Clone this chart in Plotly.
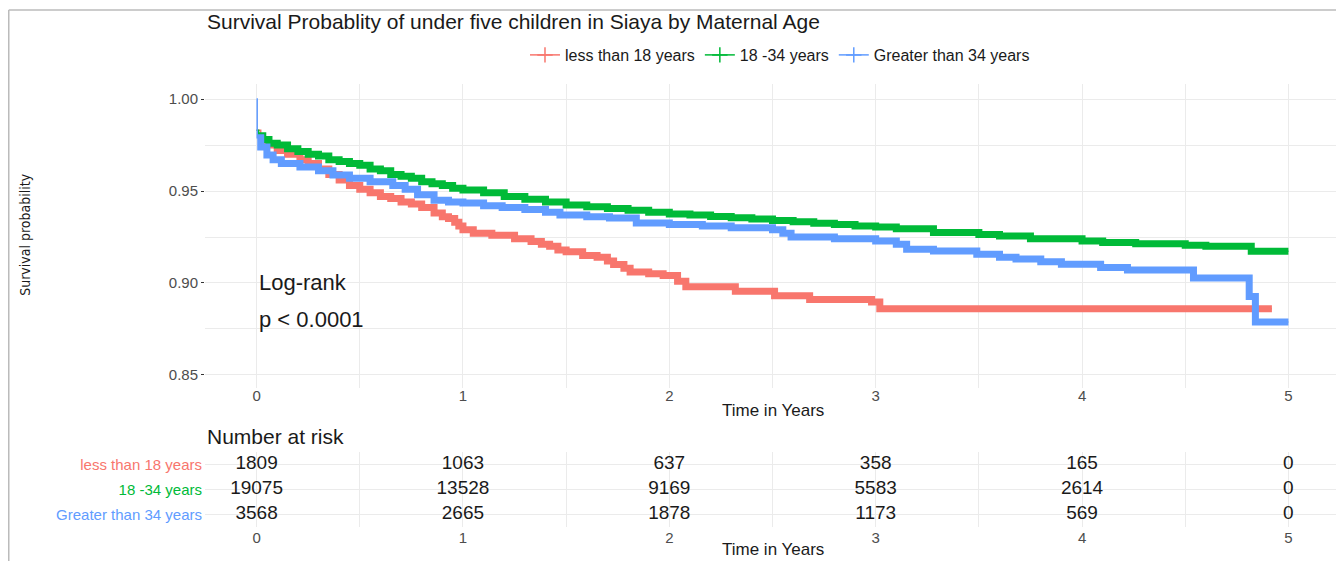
import plotly.graph_objects as go

# Kaplan-Meier estimates (time in years, survival)
red_t = [0, 0.02, 0.05, 0.1, 0.15, 0.21, 0.25, 0.3, 0.35, 0.4, 0.45, 0.5, 0.55, 0.6, 0.65,
         0.7, 0.75, 0.8, 0.86, 0.9, 0.93, 0.96, 0.98, 1.0, 1.05, 1.14, 1.25, 1.33, 1.38, 1.42,
         1.46, 1.5, 1.58, 1.65, 1.7, 1.73, 1.78, 1.81, 1.9, 1.97, 2.04, 2.08, 2.32, 2.51,
         2.68, 2.98, 3.02, 4.92]
red_s = [0.983, 0.978, 0.975, 0.972, 0.970, 0.967, 0.965, 0.962, 0.959, 0.956, 0.953, 0.951,
         0.949, 0.947, 0.946, 0.944, 0.943, 0.941, 0.938, 0.936, 0.935, 0.933, 0.931, 0.929,
         0.927, 0.926, 0.924, 0.9225, 0.921, 0.920, 0.918, 0.917, 0.915, 0.914, 0.912, 0.910,
         0.908, 0.906, 0.905, 0.904, 0.901, 0.898, 0.8955, 0.893, 0.891, 0.8896, 0.886, 0.886]

green_t = [0, 0.01, 0.03, 0.06, 0.1, 0.15, 0.2, 0.25, 0.3, 0.35, 0.4, 0.45, 0.5, 0.55, 0.6,
           0.65, 0.7, 0.75, 0.8, 0.85, 0.9, 0.95, 1.0, 1.1, 1.2, 1.3, 1.4, 1.5, 1.6, 1.7, 1.8,
           1.9, 2.0, 2.1, 2.2, 2.3, 2.4, 2.5, 2.6, 2.7, 2.8, 2.9, 3.0, 3.1, 3.28, 3.5, 3.6,
           3.75, 4.0, 4.1, 4.26, 4.5, 4.6, 4.82, 5.0]
green_s = [0.983, 0.980, 0.978, 0.976, 0.975, 0.973, 0.9715, 0.970, 0.969, 0.967, 0.966,
           0.965, 0.964, 0.962, 0.961, 0.959, 0.958, 0.957, 0.955, 0.954, 0.953, 0.9515,
           0.9505, 0.949, 0.947, 0.9455, 0.944, 0.9424, 0.9415, 0.9405, 0.9395, 0.9385,
           0.9375, 0.937, 0.9362, 0.9355, 0.9348, 0.934, 0.9333, 0.9325, 0.9318, 0.931,
           0.9304, 0.9295, 0.9275, 0.9264, 0.9255, 0.924, 0.9228, 0.922, 0.9214, 0.9205,
           0.920, 0.9172, 0.9172]

blue_t = [0, 0.003, 0.02, 0.05, 0.08, 0.12, 0.21, 0.3, 0.37, 0.45, 0.55, 0.66, 0.72, 0.78,
          0.86, 0.93, 1.0, 1.1, 1.19, 1.3, 1.4, 1.47, 1.6, 1.71, 1.84, 2.0, 2.16, 2.3, 2.5,
          2.55, 2.59, 2.8, 3.0, 3.1, 3.15, 3.28, 3.49, 3.6, 3.68, 3.8, 3.9, 4.09, 4.22, 4.54,
          4.81, 4.84, 5.0]
blue_s = [1.0, 0.979, 0.974, 0.9696, 0.967, 0.965, 0.963, 0.961, 0.9587, 0.957, 0.955,
          0.953, 0.951, 0.948, 0.945, 0.944, 0.9435, 0.942, 0.941, 0.940, 0.9385, 0.937,
          0.936, 0.9354, 0.9326, 0.9318, 0.931, 0.930, 0.929, 0.927, 0.925, 0.924, 0.9228,
          0.921, 0.9183, 0.9174, 0.9156, 0.914, 0.913, 0.9115, 0.9102, 0.9084, 0.907, 0.9027,
          0.8926, 0.8788, 0.8788]

groups = ["less than 18 years", "18 -34 years", "Greater than 34 years"]
colors = ["#F8766D", "#00BA38", "#619CFF"]

# number at risk table
risk_times = [0, 1, 2, 3, 4, 5]
risk_red = [1809, 1063, 637, 358, 165, 0]
risk_green = [19075, 13528, 9169, 5583, 2614, 0]
risk_blue = [3568, 2665, 1878, 1173, 569, 0]

FONT = "Liberation Sans, Arial, sans-serif"
GRID = "#ebebeb"

fig = go.Figure()

curves = [(red_t, red_s), (green_t, green_s), (blue_t, blue_s)]
for (t, s), name, col in zip(curves, groups, colors):
    # dense censoring marks appear as a band along the curve
    fig.add_trace(go.Scatter(x=t[1:], y=s[1:], mode="lines", line_shape="hv",
                             line=dict(color=col, width=7), showlegend=False,
                             hoverinfo="skip"))
    fig.add_trace(go.Scatter(x=t, y=s, mode="lines", line_shape="hv",
                             line=dict(color=col, width=1.5), showlegend=False, name=name))

# legend keys: line with a "+" mark
for name, col in zip(groups, colors):
    fig.add_trace(go.Scatter(x=[None], y=[None], mode="lines+markers", name=name,
                             line=dict(color=col, width=1.5),
                             marker=dict(symbol="cross-thin", size=11,
                                         line=dict(color=col, width=1.5))))

risk_rows = [risk_red, risk_green, risk_blue]
for i, counts in enumerate(risk_rows):
    fig.add_trace(go.Scatter(x=risk_times, y=[2 - i] * len(risk_times), mode="text",
                             text=[str(c) for c in counts], xaxis="x2", yaxis="y2",
                             textfont=dict(size=19, color="#1a1a1a", family=FONT),
                             showlegend=False, hoverinfo="skip"))

ticktext = ['<span style="color:%s">%s</span>' % (c, g) for g, c in zip(groups, colors)]

axis_common = dict(range=[-0.25, 5.25], tickvals=risk_times, showline=False, zeroline=False,
                   tickfont=dict(size=15, color="#4d4d4d", family=FONT))

fig.update_layout(
    width=1344, height=561,
    margin=dict(l=197, r=12, t=76, b=42),
    paper_bgcolor="white", plot_bgcolor="white",
    font=dict(family=FONT, color="#1a1a1a"),
    xaxis=dict(domain=[0, 1], anchor="y", showgrid=True, gridcolor=GRID, gridwidth=1,
               minor=dict(dtick=0.5, showgrid=True, gridcolor=GRID, gridwidth=0.8),
               ticks="", ticklabelstandoff=-3, **axis_common),
    yaxis=dict(domain=[0.3138, 1], anchor="x", range=[0.8429, 1.0082],
               tickvals=[0.85, 0.90, 0.95, 1.00], ticktext=["0.85", "0.90", "0.95", "1.00"],
               showgrid=True, gridcolor=GRID, gridwidth=1,
               minor=dict(dtick=0.025, showgrid=True, gridcolor=GRID, gridwidth=0.8),
               ticks="outside", ticklen=3, tickcolor="#333333", zeroline=False,
               tickfont=dict(size=15, color="#4d4d4d", family=FONT)),
    xaxis2=dict(domain=[0, 1], anchor="y2", showgrid=False,
                minor=dict(dtick=0.5, showgrid=True, gridcolor=GRID, gridwidth=1),
                ticks="", **axis_common),
    yaxis2=dict(domain=[0, 0.1693], anchor="x2", range=[-0.5, 2.5], tickvals=[2, 1, 0],
                ticktext=ticktext, showgrid=True, gridcolor=GRID, gridwidth=1,
                zeroline=False, ticks="", ticklabelstandoff=2,
                tickfont=dict(size=15, family=FONT)),
    legend=dict(orientation="h", x=0.5066, xanchor="center", y=1.0655, yanchor="middle",
                font=dict(size=16, color="#1a1a1a", family=FONT), bgcolor="rgba(0,0,0,0)",
                itemwidth=30, tracegroupgap=0),
    showlegend=True,
)

annotations = [
    dict(text="Survival Probablity of under five children in Siaya by Maternal Age",
         x=0, y=1.142, xanchor="left", yanchor="middle", font=dict(size=21, color="#1a1a1a")),
    dict(text="Survival probability", x=-0.1586, y=0.6595, textangle=-90,
         xanchor="center", yanchor="middle",
         font=dict(size=14, color="#1a1a1a",
                   family="Liberation Sans Narrow, DejaVu Sans Condensed, Arial Narrow, sans-serif")),
    dict(text="Time in Years", x=0.5, y=0.2619, xanchor="center", yanchor="middle",
         font=dict(size=17, color="#1a1a1a")),
    dict(text="Time in Years", x=0.5, y=-0.0519, xanchor="center", yanchor="middle",
         font=dict(size=17, color="#1a1a1a")),
    dict(text="Number at risk", x=0, y=0.2044, xanchor="left", yanchor="middle",
         font=dict(size=21, color="#1a1a1a")),
    dict(text="Log-rank", x=0, y=0.90, xref="x", yref="y", xanchor="left", yanchor="middle",
         font=dict(size=22, color="#1a1a1a")),
    dict(text="p < 0.0001", x=0, y=0.88, xref="x", yref="y", xanchor="left", yanchor="middle",
         font=dict(size=22, color="#1a1a1a")),
]
for a in annotations:
    a.setdefault("xref", "paper")
    a.setdefault("yref", "paper")
    a["showarrow"] = False
fig.update_layout(annotations=annotations)

# thin frame on top and left as in the source image
fig.add_shape(type="line", xref="paper", yref="paper", x0=-0.1729, x1=1.02, y0=1.167, y1=1.167,
              line=dict(color="#bbbbbb", width=1.5))
fig.add_shape(type="line", xref="paper", yref="paper", x0=-0.1729, x1=-0.1729, y0=-0.1,
              y1=1.167, line=dict(color="#bbbbbb", width=1.5))

fig.write_html("out.html")
